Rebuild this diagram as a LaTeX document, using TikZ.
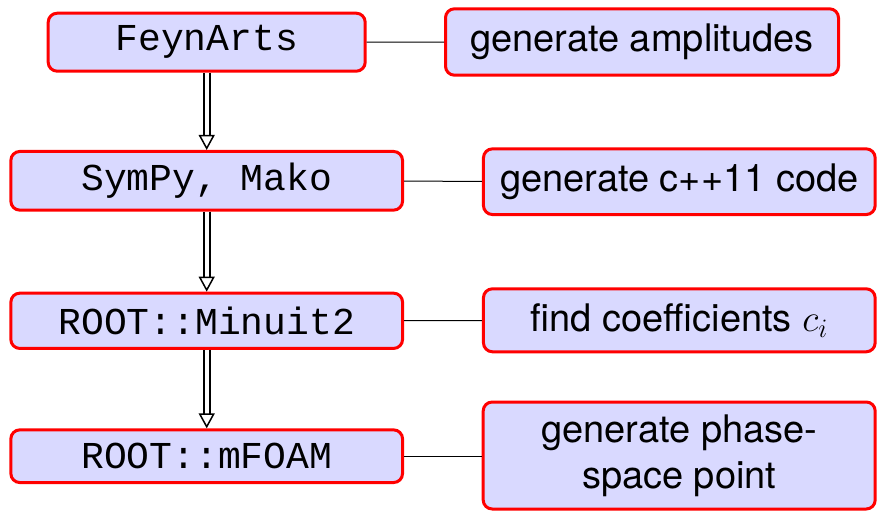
\RequirePackage{fix-cm}
\documentclass[tikz,border=0pt]{standalone}
\usepackage{fontspec}
\setmainfont{TeX Gyre Heros}
\setmonofont{Liberation Mono}
\usetikzlibrary{arrows.meta}
\definecolor{boxfill}{RGB}{217,217,255}
\tikzset{
  box/.style={draw=red, fill=boxfill, line width=3pt, rounded corners=9pt,
    inner sep=0pt, align=center,
    font=\fontsize{38}{45.6}\selectfont},
  codebox/.style={box, font=\fontsize{38}{45.6}\selectfont\ttfamily},
  flow/.style={double, double distance=4pt, line width=1.8pt,
    -{Triangle[open, width=16pt, length=15pt, line width=1.5pt]}},
  link/.style={line width=1pt, black}
}
\begin{document}
\begin{tikzpicture}[x=1pt,y=1pt]
\useasboundingbox (0,0) rectangle (877,512);
% left column
\node[codebox, minimum width=317pt, minimum height=58pt] (l1) at (206.7,469.8) {FeynArts};
\node[codebox, minimum width=391.7pt, minimum height=58.7pt] (l2) at (206.7,331.2) {SymPy, Mako};
\node[codebox, minimum width=391.7pt, minimum height=55.3pt] (l3) at (206.7,191.2) {ROOT::Minuit2};
\node[codebox, minimum width=391.7pt, minimum height=52.7pt] (l4) at (206.7,55.8) {ROOT::mFOAM};
% right column
\node[box, minimum width=393pt, minimum height=66.4pt] (r1) at (642,470) {generate amplitudes};
\node[box, minimum width=391.7pt, minimum height=65.7pt] (r2) at (679.3,330.3) {generate c++11 code};
\node[box, minimum width=391.7pt, minimum height=63pt] (r3) at (679.3,191.7) {find coefficients $c_i$};
\node[box, minimum width=392pt, minimum height=107pt] (r4) at (679.2,56.5) {generate phase-\\space point};
% arrows
\draw[flow] (l1) -- (l2);
\draw[flow] (l2) -- (l3);
\draw[flow] (l3) -- (l4);
% links
\draw[link] (l1) -- (r1);
\draw[link] (l2) -- (r2);
\draw[link] (l3) -- (r3);
\draw[link] (l4.east) -- (l4.east -| r4.west);
\end{tikzpicture}
\end{document}
